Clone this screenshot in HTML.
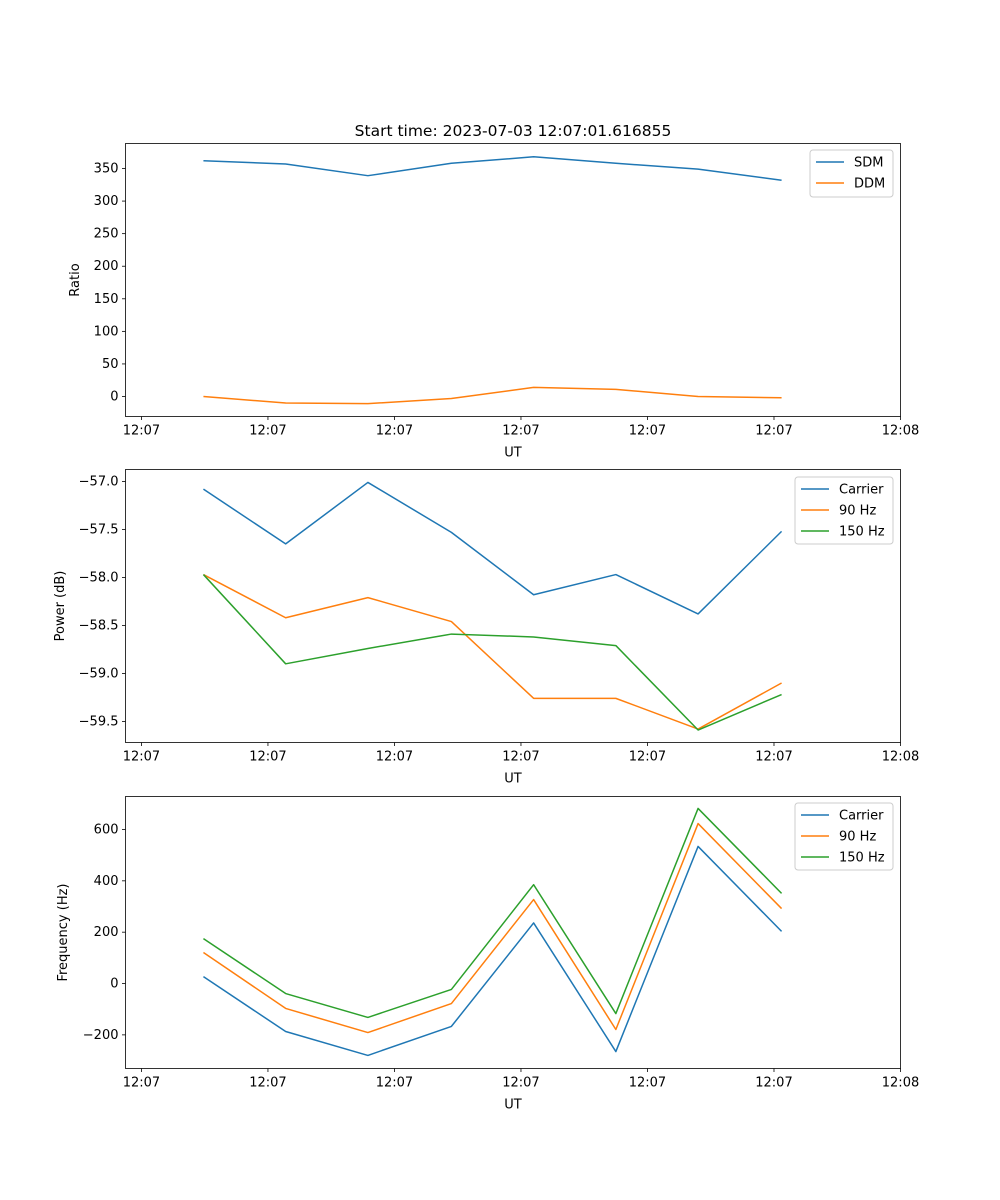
<!DOCTYPE html>
<html><head><meta charset="utf-8"><style>
html,body{margin:0;padding:0;background:#fff;}
svg{display:block;font-family:"DejaVu Sans","Liberation Sans",sans-serif;}
</style></head><body>
<svg id="chart" width="1000" height="1200" xmlns="http://www.w3.org/2000/svg"></svg>
<script>
// shared x data (seconds after 12:07:00)
const times = [4.9, 11.4, 17.9, 24.5, 31.0, 37.5, 44.0, 50.6];
const xTickVals = [0, 10, 20, 30, 40, 50, 60];
const xTickLabels = ["12:07","12:07","12:07","12:07","12:07","12:07","12:08"];
// panel 1
const sdm = [362, 357, 339, 358, 368, 358, 349, 332];
const ddm = [0, -10, -11, -3, 14, 11, 0, -2];
const ticks1 = [0, 50, 100, 150, 200, 250, 300, 350];
// panel 2
const pCarrier = [-57.08, -57.65, -57.01, -57.53, -58.18, -57.97, -58.38, -57.52];
const p90 = [-57.97, -58.42, -58.21, -58.46, -59.26, -59.26, -59.58, -59.10];
const p150 = [-57.97, -58.90, -58.74, -58.59, -58.62, -58.71, -59.59, -59.22];
const ticks2 = [-57.0, -57.5, -58.0, -58.5, -59.0, -59.5];
// panel 3
const fCarrier = [27, -187, -280, -167, 236, -265, 534, 203];
const f90 = [121, -97, -191, -78, 327, -179, 623, 292];
const f150 = [175, -39, -132, -23, 385, -117, 682, 351];
const ticks3 = [-200, 0, 200, 400, 600];

const NS = "http://www.w3.org/2000/svg";
const svg = document.getElementById("chart");
function mk(tag, attrs, parent, text){
  const e = document.createElementNS(NS, tag);
  for (const k in attrs) e.setAttribute(k, attrs[k]);
  if (text !== undefined) e.textContent = text;
  (parent || svg).appendChild(e);
  return e;
}
const L = 125.5, R = 900.5;
const xMin = -1.26, xMax = 60;
const xs = v => L + (v - xMin) / (xMax - xMin) * (R - L);
const C = ["#1f77b4", "#ff7f0e", "#2ca02c"];

function panel(id, top, bot, yMin, yMax, ticks, fmt, series, names, ylab, ylabX, legBox){
  const g = mk("g", {});
  
  
  const ys = v => bot - (v - yMin) / (yMax - yMin) * (bot - top);
  // series
  series.forEach((s, i) => {
    const d = s.map((v, j) => (j ? "L" : "M") + xs(times[j]).toFixed(2) + "," + ys(v).toFixed(2)).join(" ");
    const p = mk("path", {d: d, fill: "none", stroke: C[i], "stroke-width": 1.5, "stroke-linejoin": "round"}, g);
    
    
  });
  // frame
  const f = mk("rect", {x: L, y: top, width: R - L, height: bot - top, fill: "none", stroke: "#000", "stroke-width": 0.8}, g);
  
  
  // y ticks
  ticks.forEach(t => {
    const y = ys(t);
    mk("line", {x1: L - 3.5, x2: L, y1: y, y2: y, stroke: "#000", "stroke-width": 0.8}, g);
    const tx = mk("text", {x: L - 7, y: y + 4, "text-anchor": "end", "font-size": 13}, g, fmt(t));
    
    
  });
  // x ticks
  xTickVals.forEach((t, i) => {
    const x = xs(t);
    mk("line", {x1: x, x2: x, y1: bot, y2: bot + 3.5, stroke: "#000", "stroke-width": 0.8}, g);
    const tx = mk("text", {x: x, y: bot + 18, "text-anchor": "middle", "font-size": 13}, g, xTickLabels[i]);
    
    
  });
  const xl = mk("text", {x: (L + R) / 2, y: bot + 40, "text-anchor": "middle", "font-size": 13}, g, "UT");
  
  
  const cy = (top + bot) / 2;
  const yl = mk("text", {x: ylabX, y: cy, "text-anchor": "middle", "font-size": 13, transform: "rotate(-90 " + ylabX + " " + cy + ")"}, g, ylab);
  
  
  // legend
  const lg = mk("g", {}, g);
  
  
  mk("rect", {x: legBox[0], y: legBox[1], width: legBox[2], height: legBox[3], rx: 3, fill: "#fff", "fill-opacity": 0.8, stroke: "#ccc", "stroke-width": 1}, lg);
  names.forEach((n, i) => {
    const y = legBox[1] + 12 + i * 21;
    const ent = mk("g", {}, lg);
    
    
    mk("line", {x1: legBox[0] + 6, x2: legBox[0] + 34, y1: y, y2: y, stroke: C[i], "stroke-width": 1.5}, ent);
    mk("text", {x: legBox[0] + 44, y: y + 4.5, "font-size": 13}, ent, n);
  });
}
const minus = s => s.replace("-", "\u2212");
panel("ratio-panel", 143.5, 416.5, -30.7, 388.4, ticks1, t => minus(String(t)), [sdm, ddm], ["SDM", "DDM"], "Ratio", 79, [810, 150, 83, 47]);
panel("power-panel", 469.5, 742.5, -59.72, -56.875, ticks2, t => minus(t.toFixed(1)), [pCarrier, p90, p150], ["Carrier", "90 Hz", "150 Hz"], "Power (dB)", 64, [795, 477, 98, 67]);
panel("frequency-panel", 796.5, 1068.5, -331, 728.5, ticks3, t => minus(String(t)), [fCarrier, f90, f150], ["Carrier", "90 Hz", "150 Hz"], "Frequency (Hz)", 67, [795, 803, 98, 67]);
const title = mk("text", {x: 513, y: 136, "text-anchor": "middle", "font-size": 15.5}, svg, "Start time: 2023-07-03 12:07:01.616855");


</script>
</body></html>
